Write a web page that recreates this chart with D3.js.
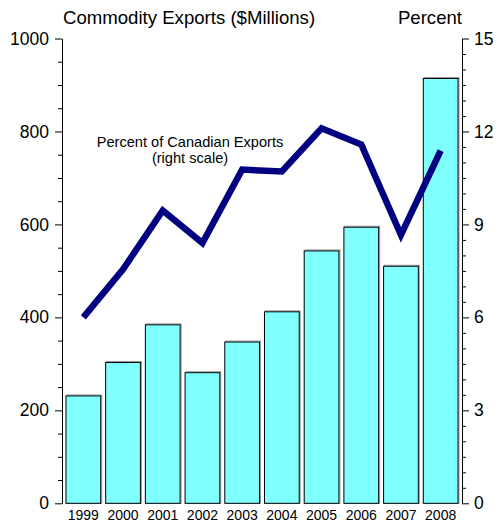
<!DOCTYPE html>
<html>
<head>
<meta charset="utf-8">
<script src="https://cdn.jsdelivr.net/npm/d3@7"></script>
<style>
  html, body { margin: 0; padding: 0; background: #fff; }
  svg { display: block; font-family: "Liberation Sans", Arial, sans-serif; }
</style>
</head>
<body>
<svg id="chart" width="498" height="525"></svg>
<script>
const years = ["1999","2000","2001","2002","2003","2004","2005","2006","2007","2008"];
const exportsMillions = [231, 303, 384, 281, 347, 412, 543, 594, 510, 914];
const percentOfExports = [6.0, 7.55, 9.45, 8.4, 10.77, 10.71, 12.1, 11.58, 8.66, 11.38];
const leftTicks = [0, 200, 400, 600, 800, 1000];
const rightTicks = [0, 3, 6, 9, 12, 15];
const titleLeft = "Commodity Exports ($Millions)";
const titleRight = "Percent";
const annotation = ["Percent of Canadian Exports", "(right scale)"];

const svg = d3.select("#chart");
const L = 62, R = 462, T = 38.5, B = 503.3;
const FONT = "Liberation Sans, Arial, sans-serif";

const x = d3.scaleBand().domain(years).range([L, R]).paddingInner(0.125).paddingOuter(0.1);
const yL = d3.scaleLinear().domain([0, 1000]).range([B, T]);
const yR = d3.scaleLinear().domain([0, 15]).range([B, T]);

// bars: gray shadow then main
const bars = svg.append("g");
bars.selectAll("rect.shadow").data(years).join("rect")
  .attr("class", "shadow")
  .attr("x", d => x(d) + 1)
  .attr("y", (d, i) => yL(exportsMillions[i]) - 1)
  .attr("width", x.bandwidth())
  .attr("height", (d, i) => B - yL(exportsMillions[i]) + 1)
  .attr("fill", "none").attr("stroke", "#999").attr("stroke-width", 1);
bars.selectAll("rect.bar").data(years).join("rect")
  .attr("class", "bar")
  .attr("x", d => x(d))
  .attr("y", (d, i) => yL(exportsMillions[i]))
  .attr("width", x.bandwidth())
  .attr("height", (d, i) => B - yL(exportsMillions[i]))
  .attr("fill", "#80FFFF").attr("stroke", "#000").attr("stroke-width", 1);

// line
const line = d3.line()
  .x((d, i) => x(years[i]) + x.bandwidth() / 2)
  .y(d => yR(d));
svg.append("path").datum(percentOfExports)
  .attr("d", line)
  .attr("fill", "none")
  .attr("stroke", "#000080")
  .attr("stroke-width", 6.5)
  .attr("stroke-linejoin", "miter");

// left axis
const minorL = d3.range(0, 1001, 50).filter(v => v % 200 !== 0);
const gLminor = svg.append("g").attr("transform", `translate(${L},0)`)
  .call(d3.axisLeft(yL).tickValues(minorL).tickSize(4).tickSizeOuter(0).tickFormat(""));
gLminor.select(".domain").remove();
const gL = svg.append("g").attr("transform", `translate(${L},0)`)
  .call(d3.axisLeft(yL).tickValues(leftTicks).tickSize(7).tickSizeOuter(0).tickPadding(6).tickFormat(d3.format("d")));
gL.selectAll("text").attr("font-size", 17.5).attr("fill", "#000").attr("font-family", FONT);

// right axis
const minorR = d3.range(0, 15.01, 0.5).filter(v => v % 3 !== 0);
const gRminor = svg.append("g").attr("transform", `translate(${R},0)`)
  .call(d3.axisRight(yR).tickValues(minorR).tickSize(4).tickSizeOuter(0).tickFormat(""));
gRminor.select(".domain").remove();
const gR = svg.append("g").attr("transform", `translate(${R},0)`)
  .call(d3.axisRight(yR).tickValues(rightTicks).tickSize(7).tickSizeOuter(0).tickPadding(5).tickFormat(d3.format("d")));
gR.selectAll("text").attr("font-size", 17.5).attr("fill", "#000").attr("font-family", FONT);

svg.selectAll(".tick line, .domain").attr("stroke", "#000");

// x labels
const gX = svg.append("g").attr("transform", `translate(0,${B})`)
  .call(d3.axisBottom(x).tickSize(0).tickPadding(7));
gX.select(".domain").remove();
gX.selectAll("text").attr("font-size", 14).attr("fill", "#000").attr("font-family", FONT);

// titles
svg.append("text").attr("x", 63).attr("y", 24).attr("font-size", 18.6).attr("fill", "#000").text(titleLeft);
svg.append("text").attr("x", 462).attr("y", 24).attr("font-size", 18.6).attr("text-anchor", "end").attr("fill", "#000").text(titleRight);

// annotation
svg.append("text").attr("x", 190).attr("y", 147).attr("font-size", 14.6).attr("text-anchor", "middle").attr("fill", "#000").text(annotation[0]);
svg.append("text").attr("x", 190).attr("y", 163).attr("font-size", 14.6).attr("text-anchor", "middle").attr("fill", "#000").text(annotation[1]);
</script>
</body>
</html>
